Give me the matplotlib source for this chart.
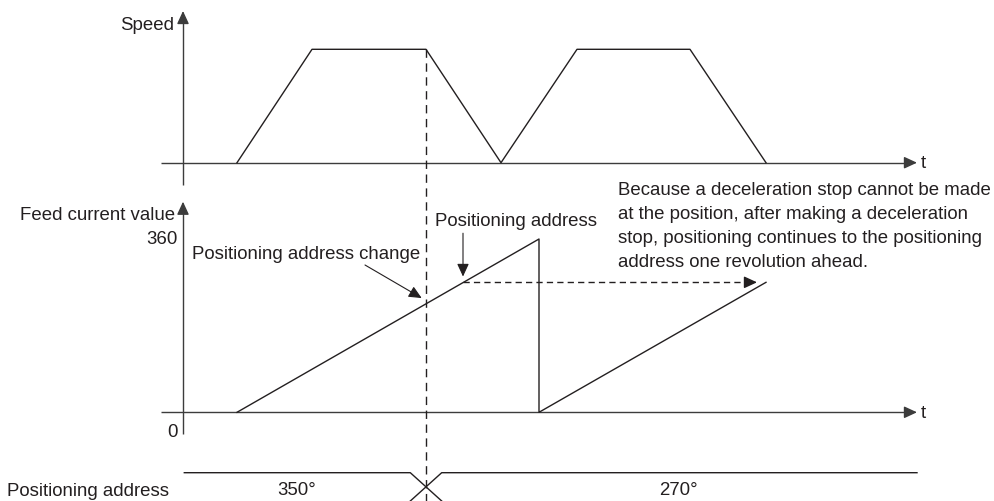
import matplotlib
matplotlib.use("Agg")
import matplotlib.pyplot as plt
from matplotlib.transforms import blended_transform_factory

plt.rcParams['font.family'] = ['Liberation Sans', 'DejaVu Sans']
plt.rcParams['lines.scale_dashes'] = False

# ---------------- data (schematic units) ----------------
speed_t = [0.54, 1.29, 2.43, 3.18, 3.94, 5.07, 5.83]
speed_v = [0, 1, 1, 0, 1, 1, 0]

feed_t = [0.54, 3.56, 3.56, 5.83]
feed_v = [0, 360, 0, 270]

change_t = 2.43          # time of positioning address change
target_t = 2.80          # where the new address (270) is passed
target_v = 270
stop_t = 5.74            # end of dashed arrow

feed_ticks = [0, 360]
address_labels = ["350°", "270°"]
address_label_t = [1.14, 4.95]
t_max = 7.34

W, H = 994, 501
fig = plt.figure(figsize=(W / 100, H / 100), dpi=100)

LC = '#231f20'
AC = '#3c3c3c'
FS = 13.4
LW = 1.0


def axes_px(x0, x1, yb, yt):
    ax = fig.add_axes([x0 / W, 1 - yb / H, (x1 - x0) / W, (yb - yt) / H])
    ax.set_axis_off()
    return ax


def arrow(ax, start, tip, color=AC, lw=LW):
    ax.annotate("", xy=tip, xytext=start,
                arrowprops=dict(arrowstyle="-|>,head_length=0.65,head_width=0.3",
                                mutation_scale=12, lw=lw, color=color,
                                shrinkA=0, shrinkB=0),
                annotation_clip=False)


# ---------------- speed panel ----------------
ax_s = axes_px(183, 917, 162.7, 49.3)
ax_s.set_xlim(0, t_max)
ax_s.set_ylim(0, 1)
ax_s.plot([-0.22, t_max - 0.1], [0, 0], color=AC, lw=LW, clip_on=False, solid_capstyle='butt')
arrow(ax_s, (t_max - 0.12, 0), (t_max, 0))
ax_s.plot([0, 0], [-0.197, 1.25], color=AC, lw=LW, clip_on=False, solid_capstyle='butt')
arrow(ax_s, (0, 1.24), (0, 1.338))
ax_s.plot(speed_t, speed_v, color=LC, lw=LW, clip_on=False)
ax_s.text(-0.09, 1.21, "Speed", ha='right', va='center', fontsize=FS, color=LC)
ax_s.text(t_max + 0.04, -0.01, "t", ha='left', va='center', fontsize=FS, color=LC)

# ---------------- feed current value panel ----------------
ax_f = axes_px(183, 917, 412.3, 239)
ax_f.set_xlim(0, t_max)
ax_f.set_ylim(0, 360)
ax_f.plot([-0.22, t_max - 0.1], [0, 0], color=AC, lw=LW, clip_on=False, solid_capstyle='butt')
arrow(ax_f, (t_max - 0.12, 0), (t_max, 0))
ax_f.plot([0, 0], [-45, 420], color=AC, lw=LW, clip_on=False, solid_capstyle='butt')
arrow(ax_f, (0, 418), (0, 437.5))
ax_f.plot(feed_t, feed_v, color=LC, lw=LW, clip_on=False)
ax_f.text(t_max + 0.04, -2, "t", ha='left', va='center', fontsize=FS, color=LC)

ax_f.text(-0.08, 409, "Feed current value", ha='right', va='center', fontsize=FS, color=LC)
ax_f.text(-0.05, feed_ticks[1] - 1, str(feed_ticks[1]), ha='right', va='center', fontsize=FS, color=LC)
ax_f.text(-0.05, -41, str(feed_ticks[0]), ha='right', va='center', fontsize=FS, color=LC)

# positioning address change annotation
v_change = feed_v[1] * (change_t - feed_t[0]) / (feed_t[1] - feed_t[0])
ax_f.text(0.087, 328, "Positioning address change", ha='left', va='center', fontsize=FS, color=LC)
ax_f.annotate("", xy=(change_t - 0.043, v_change + 12), xytext=(1.82, 306),
              arrowprops=dict(arrowstyle="-|>,head_length=0.65,head_width=0.3",
                              mutation_scale=12, lw=0.8, color=LC, shrinkA=0, shrinkB=0),
              annotation_clip=False)

# positioning address annotation
ax_f.text(2.52, 396, "Positioning address", ha='left', va='center', fontsize=FS, color=LC)
ax_f.annotate("", xy=(target_t, target_v + 12), xytext=(target_t, 372),
              arrowprops=dict(arrowstyle="-|>,head_length=0.65,head_width=0.3",
                              mutation_scale=12, lw=0.8, color=LC, shrinkA=0, shrinkB=0),
              annotation_clip=False)

# dashed continuation arrow
ax_f.plot([target_t, stop_t - 0.1], [target_v, target_v], color=LC, lw=LW,
          linestyle=(0, (4.5, 3.0)), clip_on=False)
arrow(ax_f, (stop_t - 0.12, target_v), (stop_t, target_v), color=LC)

note = ("Because a deceleration stop cannot be made\n"
        "at the position, after making a deceleration\n"
        "stop, positioning continues to the positioning\n"
        "address one revolution ahead.")
ax_f.text(4.345, 479, note, ha='left', va='top', fontsize=FS, color=LC, linespacing=1.55)

# ---------------- positioning address row ----------------
ax_a = axes_px(183, 917, 501, 472.7)
ax_a.set_xlim(0, t_max)
ax_a.set_ylim(0, 1)
half = 0.157
ax_a.plot([0.013, change_t - half, change_t + half], [1, 1, 0], color=LC, lw=LW, clip_on=False)
ax_a.plot([change_t - half, change_t + half, t_max], [0, 1, 1], color=LC, lw=LW, clip_on=False)
for lab, t in zip(address_labels, address_label_t):
    ax_a.text(t, 0.38, lab, ha='center', va='center', fontsize=FS, color=LC)
fig.text(7 / W, 1 - 491 / H, "Positioning address", ha='left', va='center', fontsize=FS, color=LC)

# dashed vertical marker line through all panels
tr = blended_transform_factory(ax_s.transData, fig.transFigure)
fig.add_artist(plt.Line2D([change_t, change_t], [1 - 49.3 / H, 0], transform=tr,
                          color=LC, lw=LW, linestyle=(0, (6.0, 4.0))))

fig.savefig("out.png", dpi=100)
